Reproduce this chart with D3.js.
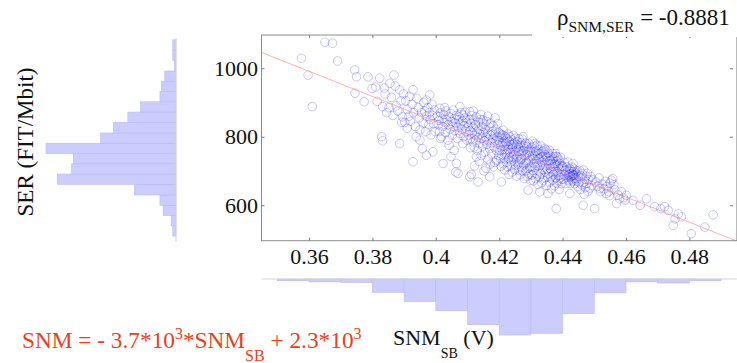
<!DOCTYPE html>
<html>
<head>
<meta charset="utf-8">
<script src="https://cdn.jsdelivr.net/npm/d3@7"></script>
<style>
  html, body { margin: 0; padding: 0; background: #fff; }
  svg { display: block; font-family: "Liberation Serif", "Times New Roman", serif; }
</style>
</head>
<body>
<svg id="chart" width="737" height="363"></svg>
<script>
// ---- values ----
const xTicks = [0.36, 0.38, 0.4, 0.42, 0.44, 0.46, 0.48];
const yTicks = [600, 800, 1000];

// histogram of SNM_SB (bottom), bin edges in V
const snmBinEdges = [0.35, 0.36, 0.37, 0.38, 0.39, 0.40, 0.41, 0.42, 0.43, 0.44, 0.45, 0.46, 0.47, 0.48, 0.49];
const snmCounts = [3, 5, 6, 23, 39, 55, 79, 97, 94, 60, 24, 5, 7, 3];

// histogram of SER (left), bin edges in FIT/Mbit
const serBinEdges = [510, 540, 570, 600, 630, 661, 691, 721, 751, 781, 811, 842, 872, 902, 932, 962, 992, 1023, 1053, 1083];
const serCounts = [2, 3, 8, 10, 26, 74, 65, 64, 81, 47, 39, 30, 22, 10, 9, 7, 1, 2, 2];

// least squares fit drawn in red
const fitSlope = -3672;
const fitIntercept = 2313;

// scatter samples [SNM_SB, SER]
const points = [
  [0.3576,1029],[0.3597,980],
  [0.361,888],[0.365,1076],[0.3674,1073],[0.369,1021],
  [0.3744,995],[0.375,975],[0.3745,927],[0.3774,902],[0.3786,975],[0.3799,941],
  [0.3823,971],[0.3829,800],[0.3832,788],[0.3832,888],[0.3868,980],[0.3886,780],[0.3855,956],[0.3886,937],
  [0.381,945],[0.384,925],[0.3815,903],[0.386,915],[0.3875,890],[0.389,905],[0.3845,870],[0.3865,862],
  [0.388,875],[0.3895,858],[0.3838,942],[0.3872,948],[0.3898,925],[0.3852,885],[0.3893,842],
  [0.3928,937],[0.3928,727],[0.397,746],[0.3991,756],[0.3981,922],[0.397,907],[0.395,790],[0.3905,905],
  [0.391,880],[0.3915,860],[0.392,845],[0.3925,895],[0.393,870],[0.3935,830],[0.394,912],[0.3945,885],
  [0.3948,855],[0.395,820],[0.3955,870],[0.396,840],[0.3962,900],[0.3965,875],[0.3968,815],[0.397,860],
  [0.3975,885],[0.3978,835],[0.398,870],[0.3983,850],[0.3985,805],[0.3988,895],[0.399,862],[0.3993,838],
  [0.3996,878],[0.3998,815],[0.391,825],[0.3938,800],[0.3902,842],[0.3958,765],[0.3918,918],
  [0.4013,883],[0.4055,878],[0.4086,863],[0.4076,888],[0.4023,722],[0.4065,722],[0.407,693],[0.4063,697],
  [0.4005,860],[0.4008,835],[0.401,848],[0.4012,815],[0.4015,870],[0.4018,800],[0.402,852],[0.4022,830],
  [0.4025,865],[0.4028,842],[0.403,812],[0.4032,875],[0.4035,850],[0.4038,790],[0.404,835],[0.4042,858],
  [0.4045,822],[0.4048,868],[0.405,845],[0.4052,805],[0.4055,830],[0.4058,852],[0.406,818],[0.4062,840],
  [0.4065,862],[0.4068,795],[0.407,828],[0.4072,850],[0.4075,810],[0.4078,838],[0.408,870],[0.4082,822],
  [0.4085,845],[0.4088,800],[0.409,832],[0.4092,855],[0.4095,815],[0.4098,840],[0.4042,775],[0.4085,780],
  [0.4028,885],[0.4058,760],[0.4092,872],[0.4015,795],[0.4075,858],[0.4048,742],[0.4098,790],
  [0.4107,873],[0.4149,849],[0.4107,683],[0.4133,668],[0.417,683],[0.4112,690],
  [0.4102,830],[0.4104,805],[0.4106,850],[0.4108,818],[0.411,795],[0.4111,840],[0.4113,862],[0.4115,812],
  [0.4117,785],[0.4118,828],[0.412,848],[0.4121,770],[0.4123,805],[0.4125,835],[0.4126,790],[0.4128,858],
  [0.413,815],[0.4131,760],[0.4133,798],[0.4135,842],[0.4136,822],[0.4138,780],[0.414,808],[0.4141,850],
  [0.4143,745],[0.4145,795],[0.4146,830],[0.4148,772],[0.415,812],[0.4151,838],[0.4153,788],[0.4155,755],
  [0.4156,820],[0.4158,800],[0.416,845],[0.4161,778],[0.4163,810],[0.4165,735],[0.4166,792],[0.4168,828],
  [0.417,765],[0.4171,805],[0.4173,840],[0.4175,782],[0.4176,750],[0.4178,815],[0.418,795],[0.4181,832],
  [0.4183,770],[0.4185,805],[0.4186,725],[0.4188,788],[0.419,822],[0.4191,760],[0.4193,800],[0.4195,838],
  [0.4196,778],[0.4198,745],[0.4199,812],[0.4122,715],[0.4158,708],[0.4142,865],[0.4187,855],[0.4128,742],
  [0.4172,720],[0.4109,768],[0.4152,700],[0.4192,730],[0.4118,875],[0.4164,860],[0.4137,728],[0.4182,712],
  [0.4197,790],
  [0.4212,819],[0.4275,800],[0.4207,668],[0.4291,644],
  [0.4201,796],[0.4202,761],[0.4203,808],[0.4204,735],[0.4205,774],[0.4206,714],[0.4207,799],[0.4208,748],
  [0.4209,805],[0.421,762],[0.4211,782],[0.4213,721],[0.4214,804],[0.4215,738],[0.4216,773],[0.4217,703],
  [0.4218,787],[0.4219,749],[0.422,800],[0.4221,763],[0.4222,781],[0.4223,725],[0.4224,794],[0.4225,754],
  [0.4226,712],[0.4227,773],[0.4228,808],[0.4229,735],[0.423,763],[0.4231,690],[0.4232,787],[0.4233,741],
  [0.4234,800],[0.4235,754],[0.4236,716],[0.4237,777],[0.4238,727],[0.4239,791],[0.424,764],[0.4241,697],
  [0.4242,770],[0.4243,743],[0.4244,804],[0.4245,732],[0.4246,778],[0.4247,748],[0.4248,704],[0.4249,784],
  [0.425,757],[0.4251,717],[0.4252,796],[0.4253,736],[0.4254,768],[0.4255,685],[0.4256,777],[0.4257,741],
  [0.4258,786],[0.4259,720],[0.426,757],[0.4261,702],[0.4262,768],[0.4263,794],[0.4264,727],[0.4265,747],
  [0.4266,689],[0.4267,774],[0.4268,733],[0.4269,783],[0.427,710],[0.4271,757],[0.4272,736],[0.4273,793],
  [0.4274,700],[0.4276,759],[0.4277,717],[0.4278,773],[0.4279,678],[0.428,745],[0.4281,765],[0.4282,721],
  [0.4283,781],[0.4284,700],[0.4285,747],[0.4286,726],[0.4287,772],[0.4288,685],[0.4289,755],[0.429,707],
  [0.4292,761],[0.4293,729],[0.4294,780],[0.4295,690],[0.4296,744],[0.4297,711],[0.4298,756],[0.4299,673],
  [0.4312,780],[0.4343,766],[0.438,743],[0.4328,639],[0.4354,634],[0.438,590],
  [0.4301,714],[0.4302,769],[0.4303,688],[0.4304,743],[0.4305,787],[0.4306,702],[0.4307,736],[0.4308,671],
  [0.4309,756],[0.431,722],[0.4311,772],[0.4313,711],[0.4314,744],[0.4315,678],[0.4316,758],[0.4317,728],
  [0.4318,692],[0.4319,775],[0.432,715],[0.4321,746],[0.4322,661],[0.4323,734],[0.4324,763],[0.4325,700],
  [0.4326,736],[0.4327,682],[0.4329,751],[0.433,718],[0.4331,773],[0.4332,692],[0.4333,740],[0.4334,666],
  [0.4335,726],[0.4336,756],[0.4337,705],[0.4338,742],[0.4339,672],[0.434,759],[0.4341,711],[0.4342,731],
  [0.4344,680],[0.4345,748],[0.4346,697],[0.4347,762],[0.4348,717],[0.4349,658],[0.435,741],[0.4351,705],
  [0.4352,730],[0.4353,683],[0.4355,752],[0.4356,692],[0.4357,721],[0.4358,761],[0.4359,667],[0.436,730],
  [0.4361,707],[0.4362,743],[0.4363,683],[0.4364,721],[0.4365,648],[0.4366,732],[0.4367,697],[0.4368,751],
  [0.4369,674],[0.437,713],[0.4371,736],[0.4372,690],[0.4373,742],[0.4374,657],[0.4375,721],[0.4376,698],
  [0.4377,751],[0.4378,680],[0.4379,715],[0.4381,664],[0.4382,729],[0.4383,698],[0.4384,741],[0.4385,673],
  [0.4386,714],[0.4387,687],[0.4388,732],[0.4389,646],[0.439,706],[0.4391,722],[0.4392,680],[0.4393,740],
  [0.4394,689],[0.4395,714],[0.4396,663],[0.4397,706],[0.4398,676],[0.4399,715],
  [0.4433,722],[0.4423,634],[0.4465,600],[0.4433,688],
  [0.4401,712],[0.4403,676],[0.4405,725],[0.4407,689],[0.4409,702],[0.4411,663],[0.4413,712],[0.4415,682],
  [0.4417,726],[0.4419,688],[0.442,672],[0.4421,699],[0.4422,691],[0.4423,681],[0.4424,706],[0.4425,663],
  [0.4426,692],[0.4427,684],[0.4428,699],[0.4429,674],[0.443,711],[0.4431,686],[0.4432,693],[0.4433,670],
  [0.4434,688],[0.4435,699],[0.4436,678],[0.4437,705],[0.4438,663],[0.4439,689],[0.444,680],[0.4442,694],
  [0.4444,671],[0.4446,700],[0.4448,654],[0.445,684],[0.4452,666],[0.4454,702],[0.4456,646],[0.4458,686],
  [0.446,660],[0.4462,692],[0.4464,665],[0.4466,703],[0.4468,632],[0.447,676],[0.4472,651],[0.4474,685],
  [0.4476,664],[0.4478,693],[0.448,640],[0.4483,675],[0.4486,650],[0.4489,684],[0.4492,657],[0.4495,674],
  [0.4501,590],[0.4554,673],[0.4538,634],[0.4517,649],[0.458,619],[0.457,605],
  [0.4505,668],[0.451,655],[0.4515,680],[0.452,640],[0.4525,662],[0.453,648],[0.4535,670],[0.454,655],
  [0.4545,640],[0.455,665],[0.4558,678],[0.4562,660],[0.4565,645],[0.4548,628],[0.4575,630],[0.4585,640],
  [0.4592,622],[0.4598,615],
  [0.4601,629],[0.4622,614],[0.4665,619],[0.4691,596],[0.4645,600],
  [0.4722,596],[0.4733,585],[0.4749,541],[0.4775,566],[0.471,590],[0.4765,575],[0.4755,560],
  [0.4806,517],[0.4849,536],[0.4875,572]
];

// ---- layout ----
const svg = d3.select('#chart');
const frame = { left: 261.5, right: 736.9, top: 35, bottom: 240.7 };

const xScale = d3.scaleLinear().domain([0.345, 0.495]).range([frame.left, frame.right]);
const yScale = d3.scaleLinear().domain([496.5, 1097]).range([frame.bottom, frame.top]);

// marginal histograms
const serHistX = 176;   // baseline of the left histogram
const snmHistY = 279;   // baseline of the bottom histogram
const serLen = d3.scaleLinear().domain([0, 81]).range([0, 130]);
const snmLen = d3.scaleLinear().domain([0, 97]).range([0, 56]);

const barFill = '#ccccff';
const barStroke = '#babaf0';

// left histogram of SER
svg.append('g')
    .selectAll('rect')
    .data(serCounts)
    .join('rect')
    .attr('x', d => serHistX - serLen(d))
    .attr('y', (d, i) => yScale(serBinEdges[i + 1]))
    .attr('width', d => serLen(d))
    .attr('height', (d, i) => yScale(serBinEdges[i]) - yScale(serBinEdges[i + 1]))
    .attr('fill', barFill)
    .attr('stroke', barStroke)
    .attr('stroke-width', 0.6);

svg.append('line')
    .attr('x1', serHistX).attr('x2', serHistX)
    .attr('y1', 38).attr('y2', 242)
    .attr('stroke', '#d4d4d4').attr('stroke-width', 1);

// bottom histogram of SNM_SB
svg.append('g')
    .selectAll('rect')
    .data(snmCounts)
    .join('rect')
    .attr('x', (d, i) => xScale(snmBinEdges[i]))
    .attr('y', snmHistY)
    .attr('width', (d, i) => xScale(snmBinEdges[i + 1]) - xScale(snmBinEdges[i]))
    .attr('height', d => snmLen(d))
    .attr('fill', barFill)
    .attr('stroke', barStroke)
    .attr('stroke-width', 0.6);

svg.append('line')
    .attr('x1', frame.left).attr('x2', frame.right)
    .attr('y1', snmHistY).attr('y2', snmHistY)
    .attr('stroke', '#d4d4d4').attr('stroke-width', 1);

// scatter area
svg.append('clipPath').attr('id', 'plotClip')
    .append('rect')
    .attr('x', frame.left).attr('y', frame.top)
    .attr('width', frame.right - frame.left)
    .attr('height', frame.bottom - frame.top);

const plot = svg.append('g').attr('clip-path', 'url(#plotClip)');

plot.selectAll('circle')
    .data(points)
    .join('circle')
    .attr('cx', d => xScale(d[0]))
    .attr('cy', d => yScale(d[1]))
    .attr('r', 4.3)
    .attr('fill', 'none')
    .attr('stroke', 'rgba(0,0,255,0.28)')
    .attr('stroke-width', 0.8);

const fitX = xScale.domain();
plot.append('line')
    .attr('x1', xScale(fitX[0]))
    .attr('y1', yScale(fitSlope * fitX[0] + fitIntercept))
    .attr('x2', xScale(fitX[1]))
    .attr('y2', yScale(fitSlope * fitX[1] + fitIntercept))
    .attr('stroke', '#ff9090')
    .attr('stroke-width', 0.7);

// frame and axes (ticks point inward)
svg.append('rect')
    .attr('x', frame.left).attr('y', frame.top)
    .attr('width', frame.right - frame.left)
    .attr('height', frame.bottom - frame.top)
    .attr('fill', 'none')
    .attr('stroke', '#8c8c8c')
    .attr('stroke-width', 1);

const tickLen = 3;
const fmt = d => String(+d.toFixed(2));

const xAxisG = svg.append('g')
    .attr('transform', `translate(0,${frame.bottom})`)
    .call(d3.axisBottom(xScale).tickValues(xTicks).tickSize(-tickLen).tickFormat(fmt));
const yAxisG = svg.append('g')
    .attr('transform', `translate(${frame.left},0)`)
    .call(d3.axisLeft(yScale).tickValues(yTicks).tickSize(-tickLen).tickPadding(3.5).tickFormat(d3.format('d')));
const topAxisG = svg.append('g')
    .attr('transform', `translate(0,${frame.top})`)
    .call(d3.axisTop(xScale).tickValues(xTicks).tickSize(-tickLen).tickFormat(''));
const rightAxisG = svg.append('g')
    .attr('transform', `translate(${frame.right - 4},0)`)
    .call(d3.axisRight(yScale).tickValues(yTicks).tickSize(-tickLen).tickFormat(''));

[xAxisG, yAxisG, topAxisG, rightAxisG].forEach(g => {
    g.select('.domain').remove();
    g.selectAll('.tick line').attr('stroke', '#777');
    g.selectAll('.tick text')
        .attr('fill', '#111')
        .style('font-family', '"Liberation Serif", "Times New Roman", serif')
        .style('font-size', '22px');
});
xAxisG.selectAll('.tick text').attr('y', 23).attr('dy', null);

// white box behind the correlation title covers the top border
svg.append('rect')
    .attr('x', 532).attr('y', 0)
    .attr('width', 205).attr('height', 37)
    .attr('fill', '#fff');

const title = svg.append('text')
    .attr('x', 557).attr('y', 25)
    .attr('fill', '#111')
    .style('font-size', '23px');
title.append('tspan').text('ρ');
title.append('tspan').attr('dy', 6.5).style('font-size', '15.5px').text('SNM,SER');
title.append('tspan').attr('dy', -6.5).text(' = -0.8881');

// axis labels
svg.append('text')
    .attr('transform', 'translate(33,142) rotate(-90)')
    .attr('text-anchor', 'middle')
    .attr('fill', '#111')
    .style('font-size', '23px')
    .text('SER (FIT/Mbit)');

const xLabel = svg.append('text')
    .attr('x', 393).attr('y', 345)
    .attr('fill', '#111')
    .style('font-size', '22px');
xLabel.append('tspan').text('SNM');
xLabel.append('tspan').attr('dy', 13).style('font-size', '14px').text('SB');
xLabel.append('tspan').attr('dy', -13).text(' (V)');

// fit equation in red
const eq = svg.append('text')
    .attr('x', 22).attr('y', 348)
    .attr('fill', '#e5411f')
    .style('font-size', '23.3px');
eq.append('tspan').text('SNM = - 3.7*10');
eq.append('tspan').attr('dy', -9).style('font-size', '16px').text('3');
eq.append('tspan').attr('dy', 9).text('*SNM');
eq.append('tspan').attr('dy', 13).style('font-size', '16px').text('SB');
eq.append('tspan').attr('dy', -13).text(' + 2.3*10');
eq.append('tspan').attr('dy', -9).style('font-size', '16px').text('3');
</script>
</body>
</html>
